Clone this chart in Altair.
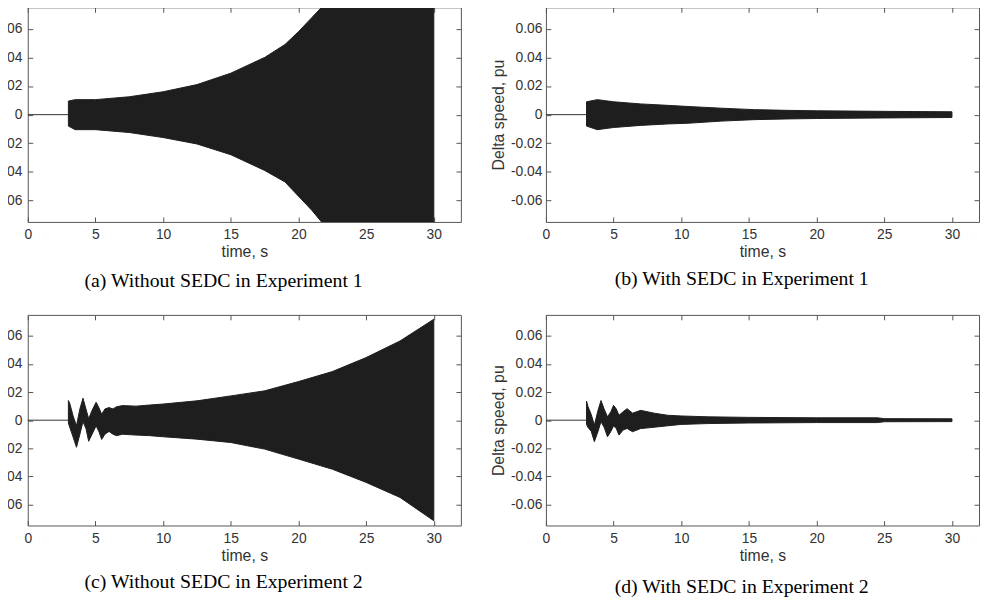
import altair as alt
import pandas as pd

XTICKS = [0, 5, 10, 15, 20, 25, 30]
YTICKS = [-0.06, -0.04, -0.02, 0, 0.02, 0.04, 0.06]

PRE_T = [0.0, 3.0]
PRE_V = [0.0, 0.0]

# (a) Without SEDC in Experiment 1 - envelope of oscillation
A_T = [3.0, 3.5, 5.0, 7.5, 10.0, 12.5, 15.0, 17.5, 19.0, 20.0, 21.0, 21.7, 30.0]
A_UP = [0.0095, 0.0105, 0.0105, 0.0125, 0.016, 0.021, 0.029, 0.040, 0.049, 0.058, 0.068, 0.075, 0.075]
A_LO = [-0.008, -0.0105, -0.0105, -0.0125, -0.016, -0.0205, -0.028, -0.039, -0.047, -0.057, -0.067, -0.075, -0.075]

# (b) With SEDC in Experiment 1
B_T = [3.0, 3.8, 5.0, 7.0, 9.0, 10.5, 13.0, 15.4, 17.8, 20.0, 25.0, 30.0]
B_UP = [0.009, 0.0105, 0.009, 0.0075, 0.0065, 0.0057, 0.0045, 0.0035, 0.003, 0.0027, 0.0023, 0.002]
B_LO = [-0.008, -0.0105, -0.009, -0.0075, -0.0065, -0.006, -0.0045, -0.0035, -0.003, -0.0027, -0.0023, -0.002]

# (c) Without SEDC in Experiment 2
C_T = [3.0, 3.1, 3.35, 3.6, 3.85, 4.08, 4.3, 4.5, 4.75, 5.05, 5.25, 5.46, 5.7, 6.0, 6.3, 6.55,
       7.0, 8.0, 9.0, 10.0, 12.5, 15.0, 17.5, 20.0, 22.5, 25.0, 27.5, 30.0]
C_UP = [0.014, 0.012, 0.003, -0.004, 0.008, 0.0157, 0.008, 0.001, 0.007, 0.0128, 0.009, 0.0043, 0.008, 0.009, 0.008, 0.0095,
        0.0104, 0.0100, 0.0108, 0.0115, 0.0138, 0.0173, 0.0209, 0.0275, 0.0346, 0.0446, 0.0564, 0.0719]
C_LO = [-0.002, -0.005, -0.012, -0.0193, -0.010, -0.001, -0.006, -0.015, -0.010, -0.004, -0.008, -0.0137, -0.010, -0.008, -0.010, -0.011,
        -0.010, -0.0106, -0.011, -0.0118, -0.0135, -0.0159, -0.0206, -0.0277, -0.0349, -0.0443, -0.055, -0.0716]

# (d) With SEDC in Experiment 2
D_T = [3.0, 3.1, 3.35, 3.58, 3.85, 4.07, 4.3, 4.55, 4.8, 5.0, 5.2, 5.4, 5.7, 6.0, 6.4,
       7.0, 8.0, 9.0, 10.0, 12.0, 15.0, 20.0, 24.5, 25.0, 30.0]
D_UP = [0.0136, 0.010, 0.004, -0.0035, 0.007, 0.014, 0.008, 0.0024, 0.006, 0.0106, 0.008, 0.0035, 0.006, 0.0082, 0.005,
        0.007, 0.005, 0.0035, 0.003, 0.0024, 0.002, 0.0017, 0.0017, 0.0011, 0.001]
D_LO = [-0.003, -0.005, -0.008, -0.0153, -0.008, -0.001, -0.005, -0.0118, -0.008, -0.004, -0.006, -0.0106, -0.007, -0.0059, -0.0082,
        -0.006, -0.005, -0.004, -0.003, -0.0024, -0.002, -0.0017, -0.0017, -0.0011, -0.001]

CAPTIONS = ["(a) Without SEDC in Experiment 1", "(b) With SEDC in Experiment 1",
            "(c) Without SEDC in Experiment 2", "(d) With SEDC in Experiment 2"]

INK = "#1e1e1e"


def panel(t, up, lo, caption, left, h, cap_offset):
    area_df = pd.DataFrame({"t": t, "up": up, "lo": lo})
    pre_df = pd.DataFrame({"t": PRE_T, "up": PRE_V})
    xscale = alt.Scale(domain=[0, 32], nice=False, zero=False)
    yscale = alt.Scale(domain=[-0.075, 0.075], nice=False)
    if left:
        label_expr = "datum.value == 0 ? '0' : slice(format(datum.value, '.2f'), -2)"
        yaxis = alt.Axis(values=YTICKS, title=None, orient="left", offset=-5, tickSize=5,
                         domain=False, grid=False, labelPadding=6, labelExpr=label_expr)
    else:
        label_expr = "datum.value == 0 ? '0' : (datum.value < 0 ? '-' : '') + format(abs(datum.value), '.2f')"
        yaxis = alt.Axis(values=YTICKS, title="Delta speed, pu", orient="left", offset=-5, tickSize=5,
                         domain=False, grid=False, labelPadding=4, labelExpr=label_expr, titlePadding=4)
    xaxis = alt.Axis(values=XTICKS, title="time, s", orient="bottom", offset=-5, tickSize=5,
                     domain=False, grid=False, labelPadding=6, titlePadding=2, labelFlush=False, format="d")
    xaxis2 = alt.Axis(values=XTICKS, title=None, orient="top", offset=-5, tickSize=5,
                      domain=False, grid=False, labels=False)
    yaxis2 = alt.Axis(values=YTICKS, title=None, orient="right", offset=-5, tickSize=5,
                      domain=False, grid=False, labels=False)
    area = alt.Chart(area_df).mark_area(fill=INK, stroke=INK, strokeWidth=1, clip=True).encode(
        x=alt.X("t:Q", scale=xscale, axis=xaxis),
        y=alt.Y("up:Q", scale=yscale, axis=yaxis),
        y2="lo:Q",
    )
    pre = alt.Chart(pre_df).mark_line(color="#333333", strokeWidth=1).encode(
        x=alt.X("t:Q", scale=xscale, axis=xaxis2),
        y=alt.Y("up:Q", scale=yscale, axis=yaxis2),
    )
    return alt.layer(area, pre).resolve_axis(x="independent", y="independent").properties(
        width=438, height=h,
        title=alt.TitleParams(caption, orient="bottom", anchor="middle", frame="group",
                              dx=-21, offset=cap_offset, font="Liberation Serif", fontSize=20,
                              fontWeight="normal", color="black"),
    )


pa = panel(A_T, A_UP, A_LO, CAPTIONS[0], True, 217, 12)
pb = panel(B_T, B_UP, B_LO, CAPTIONS[1], False, 217, 10)
pc = panel(C_T, C_UP, C_LO, CAPTIONS[2], True, 213, 9)
pd_ = panel(D_T, D_UP, D_LO, CAPTIONS[3], False, 213, 14)

chart = alt.vconcat(
    alt.hconcat(pa, pb, spacing=28),
    alt.hconcat(pc, pd_, spacing=28),
    spacing=22,
).properties(
    padding={"left": -3, "top": -5, "right": 0, "bottom": 0}
).configure_axis(
    labelFont="Liberation Sans", labelFontSize=14, labelColor="#333333",
    titleFont="Liberation Sans", titleFontSize=16, titleFontWeight="normal", titleColor="#333333",
    tickColor="#555555", tickWidth=1,
).configure_view(
    stroke="#555555", strokeWidth=1
)

chart.save("out.html", embed_options={"renderer": "svg", "actions": False})
